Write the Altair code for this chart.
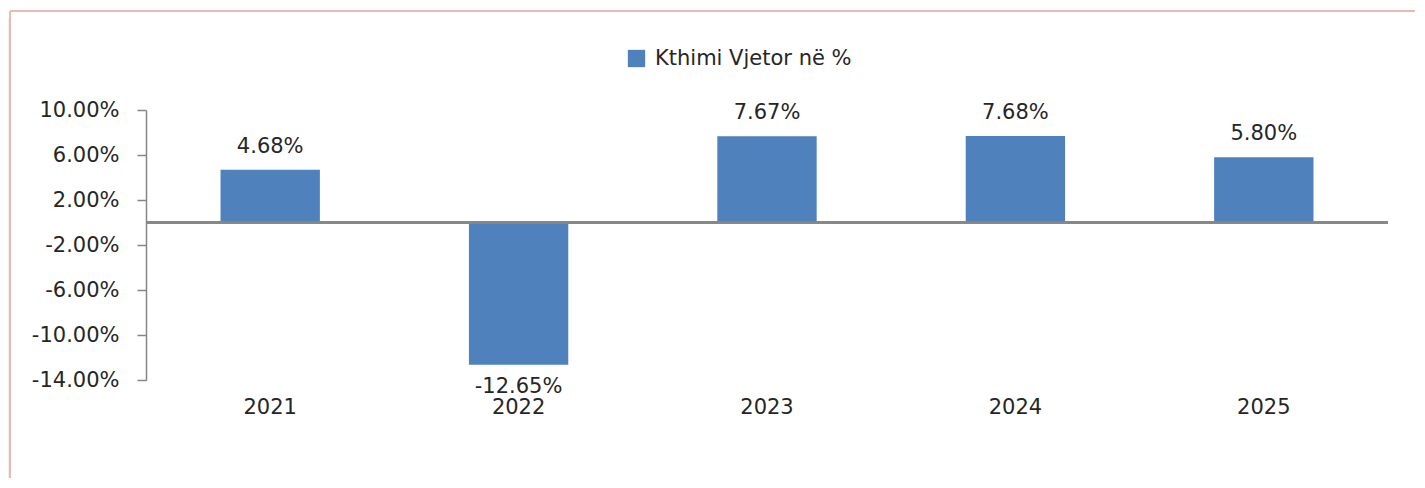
import altair as alt
import pandas as pd

years = ["2021", "2022", "2023", "2024", "2025"]
values = [0.0468, -0.1265, 0.0767, 0.0768, 0.0580]
series_name = "Kthimi Vjetor në %"
y_ticks = [-0.14, -0.10, -0.06, -0.02, 0.02, 0.06, 0.10]

df = pd.DataFrame({"year": years, "value": values, "series": [series_name] * len(years)})

FONT = "DejaVu Sans"
TXT = "#262626"
AX = "#868686"
BLUE = "#4f81bd"
MINUS_FIX = "replace(format(datum.value, '.2%'), '\u2212', '-')"

x_enc = alt.X("year:N", sort=years, title=None,
              scale=alt.Scale(paddingInner=0.6, paddingOuter=0.3),
              axis=alt.Axis(orient="bottom", domain=False, ticks=False, tickSize=0,
                            labelAngle=0, labelPadding=16, labelFontSize=21,
                            labelFont=FONT, labelColor=TXT, grid=False))
y_scale = alt.Scale(domain=[-0.14, 0.10], nice=False, zero=False)
y_enc = alt.Y("value:Q", title=None, scale=y_scale,
              axis=alt.Axis(values=y_ticks, labelExpr=MINUS_FIX, grid=False,
                            domainColor=AX, domainWidth=1.5, tickColor=AX,
                            tickWidth=1.5, tickSize=9, labelPadding=18,
                            labelFontSize=21, labelFont=FONT, labelColor=TXT))

base = alt.Chart(df).transform_calculate(lbl=MINUS_FIX)

bars = base.mark_bar().encode(
    x=x_enc,
    y=y_enc,
    color=alt.Color("series:N", scale=alt.Scale(range=[BLUE]),
                    legend=alt.Legend(orient="none", legendX=480, legendY=-62,
                                      title=None, symbolType="square",
                                      symbolSize=300, symbolStrokeWidth=0,
                                      labelFontSize=21, labelFont=FONT,
                                      labelColor=TXT, labelOffset=8, padding=0,
                                      labelLimit=0)),
)

zero = base.mark_rule(color=AX, strokeWidth=2).encode(y=alt.Y(datum=0, scale=y_scale))

pos_labels = base.transform_filter("datum.value >= 0").mark_text(
    baseline="middle", dy=-23, fontSize=21, font=FONT, color=TXT
).encode(x=alt.X("year:N", sort=years), y=alt.Y("value:Q", scale=y_scale),
         text=alt.Text("lbl:N"))

neg_labels = base.transform_filter("datum.value < 0").mark_text(
    baseline="middle", dy=22, fontSize=21, font=FONT, color=TXT
).encode(x=alt.X("year:N", sort=years), y=alt.Y("value:Q", scale=y_scale),
         text=alt.Text("lbl:N"))

frame_df = pd.DataFrame({"a": [0]})
frame_top = alt.Chart(frame_df).mark_rule(color="#e9b8b8", strokeWidth=2).encode(
    x=alt.value(-136), x2=alt.value(1300), y=alt.value(-99))
frame_left = alt.Chart(frame_df).mark_rule(color="#e9b8b8", strokeWidth=2).encode(
    x=alt.value(-136), y=alt.value(-99), y2=alt.value(400))
shadow_left = alt.Chart(frame_df).mark_rule(color="#f0ddd0", strokeWidth=3).encode(
    x=alt.value(-139), y=alt.value(-92), y2=alt.value(400))

chart = alt.layer(shadow_left, frame_top, frame_left, bars, zero, pos_labels, neg_labels).properties(
    width=1242, height=270,
    background="white",
    padding={"left": 138, "top": 102, "right": 27, "bottom": 98},
    autosize=alt.AutoSizeParams(type="none"),
).configure_view(stroke="transparent", strokeWidth=0)

chart.save("out.html", embed_options={"renderer": "svg", "actions": False})
